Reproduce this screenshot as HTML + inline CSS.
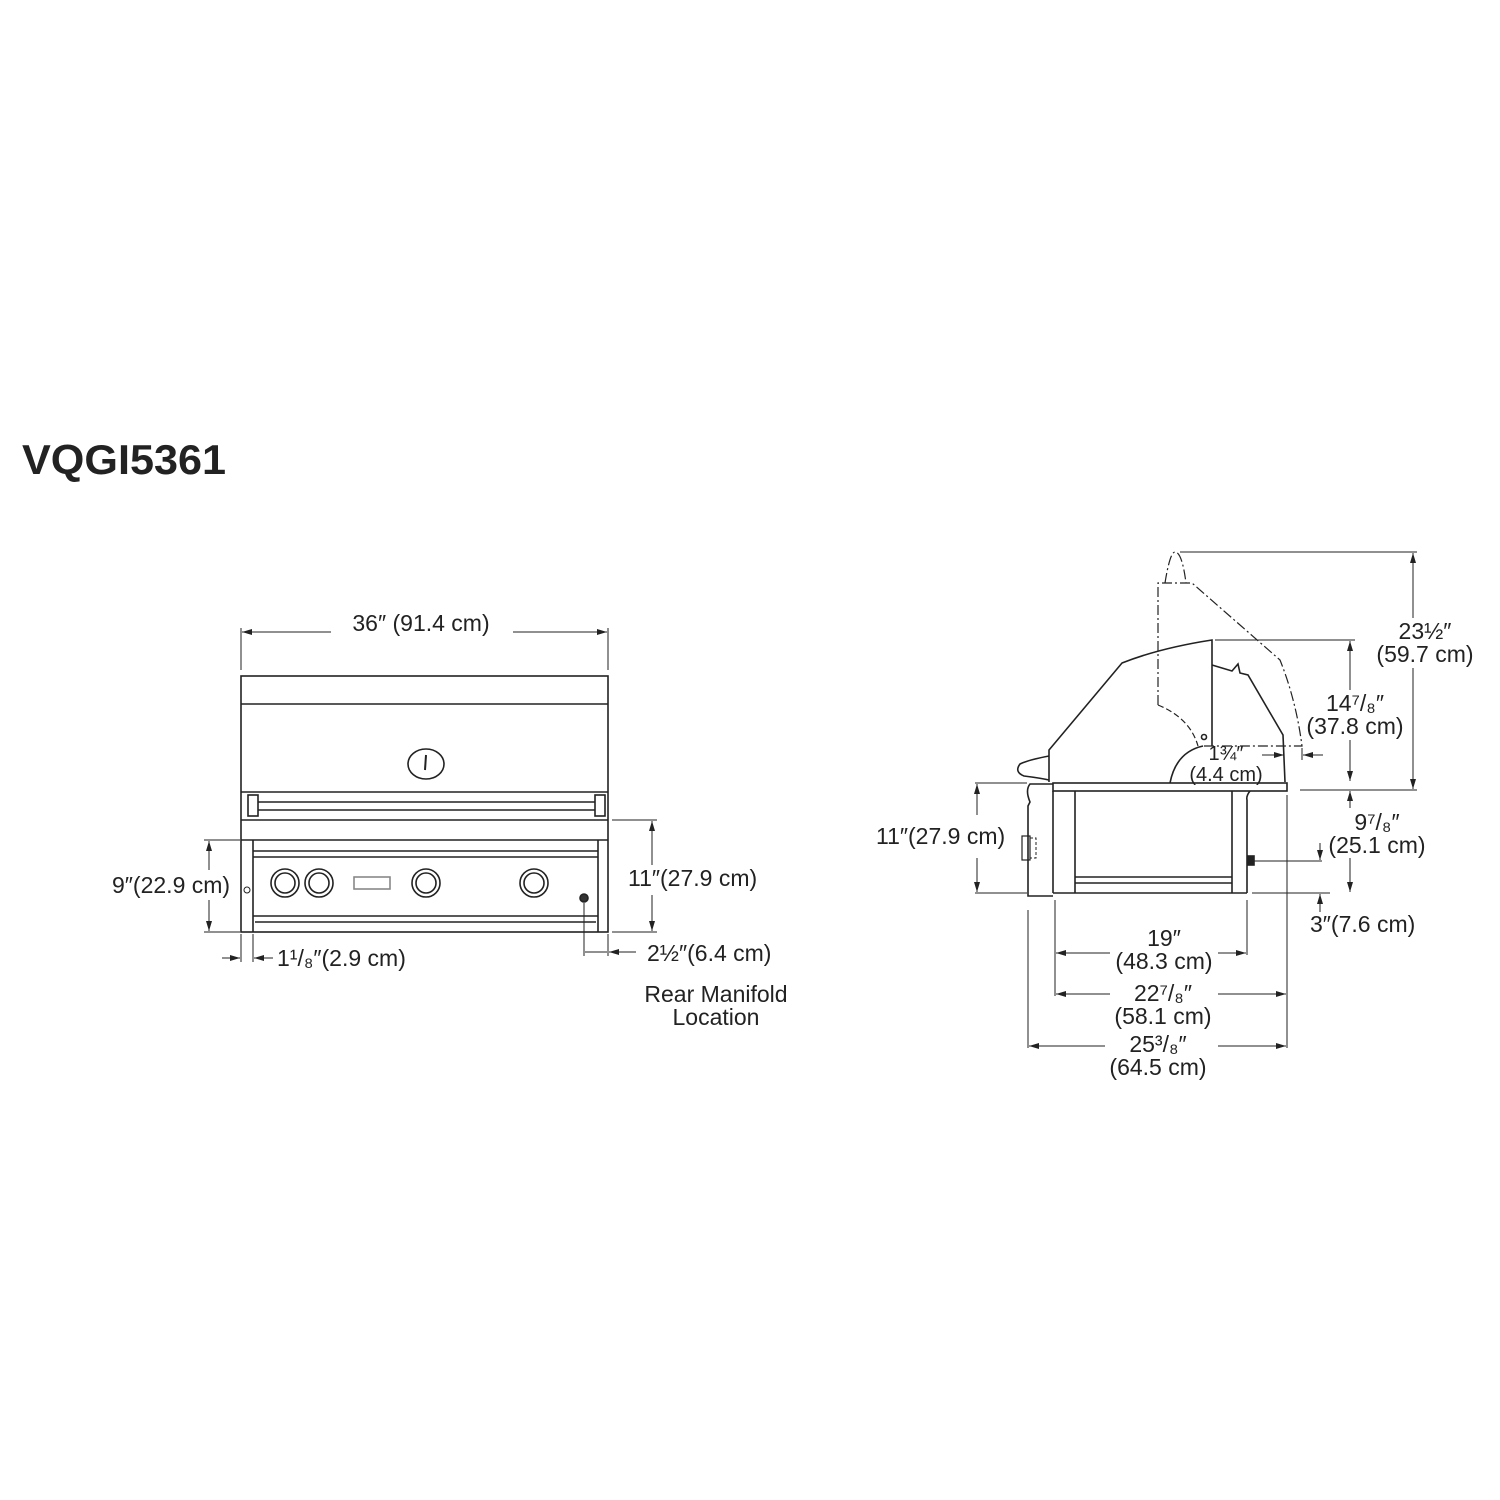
<!DOCTYPE html>
<html><head><meta charset="utf-8"><style>
html,body{margin:0;padding:0;background:#fff}
svg{display:block}
text{font-family:"Liberation Sans",sans-serif;fill:#222}
</style></head><body>
<svg width="1500" height="1500" viewBox="0 0 1500 1500" xmlns="http://www.w3.org/2000/svg">
<defs>
<marker id="a" viewBox="0 0 10 6" refX="10" refY="3" markerWidth="10" markerHeight="6" orient="auto-start-reverse" markerUnits="userSpaceOnUse"><path d="M0,0L10,3L0,6z" fill="#222"/></marker>
</defs>
<text x="22" y="474" font-size="42" font-weight="bold" textLength="204" lengthAdjust="spacingAndGlyphs">VQGI5361</text>

<g stroke="#222" fill="none" stroke-width="1.6">
<!-- FRONT VIEW -->
<rect x="241" y="676" width="367" height="256"/>
<line x1="241" y1="704" x2="608" y2="704"/>
<ellipse cx="426" cy="764" rx="18" ry="15"/>
<line x1="426" y1="755" x2="425" y2="770" stroke-width="2"/>
<line x1="241" y1="792" x2="608" y2="792"/>
<line x1="258" y1="802" x2="595" y2="802"/>
<line x1="258" y1="810" x2="595" y2="810"/>
<rect x="248" y="795" width="10" height="21"/>
<rect x="595" y="795" width="10" height="21"/>
<line x1="241" y1="820" x2="608" y2="820"/>
<line x1="241" y1="840" x2="608" y2="840"/>
<line x1="253" y1="840" x2="253" y2="932"/>
<line x1="598" y1="840" x2="598" y2="932"/>
<line x1="253" y1="851" x2="598" y2="851"/>
<line x1="253" y1="857" x2="598" y2="857"/>
<line x1="253" y1="916" x2="598" y2="916"/>
<line x1="255" y1="922" x2="596" y2="922"/>
<circle cx="285" cy="883" r="14"/><circle cx="285" cy="883" r="10"/>
<circle cx="319" cy="883" r="14"/><circle cx="319" cy="883" r="10"/>
<circle cx="426" cy="883" r="14"/><circle cx="426" cy="883" r="10"/>
<circle cx="534" cy="883" r="14"/><circle cx="534" cy="883" r="10"/>
<rect x="354" y="877" width="36" height="12" stroke="#888"/>
<circle cx="584" cy="898" r="4" fill="#333"/>
<circle cx="247" cy="890" r="3" stroke-width="1"/>

<!-- front dims -->
<g stroke-width="1">
<line x1="241" y1="628" x2="241" y2="670"/><line x1="608" y1="628" x2="608" y2="670"/>
<line x1="331" y1="632" x2="242" y2="632" marker-end="url(#a)"/>
<line x1="513" y1="632" x2="607" y2="632" marker-end="url(#a)"/>
<line x1="612" y1="820" x2="657" y2="820"/><line x1="612" y1="932" x2="657" y2="932"/>
<line x1="652" y1="865" x2="652" y2="821" marker-end="url(#a)"/>
<line x1="652" y1="895" x2="652" y2="931" marker-end="url(#a)"/>
<line x1="204" y1="840" x2="240" y2="840"/><line x1="204" y1="932" x2="240" y2="932"/>
<line x1="209" y1="870" x2="209" y2="841" marker-end="url(#a)"/>
<line x1="209" y1="900" x2="209" y2="931" marker-end="url(#a)"/>
<line x1="241" y1="934" x2="241" y2="962"/><line x1="253" y1="934" x2="253" y2="962"/>
<line x1="222" y1="958" x2="240" y2="958" marker-end="url(#a)"/>
<line x1="273" y1="958" x2="254" y2="958" marker-end="url(#a)"/>
<line x1="584" y1="903" x2="584" y2="956"/><line x1="608" y1="934" x2="608" y2="956"/>
<line x1="585" y1="952" x2="607" y2="952"/>
<line x1="636" y1="952" x2="609" y2="952" marker-end="url(#a)"/>
</g>

<!-- SIDE VIEW -->
<!-- dashed open lid -->
<path d="M1158,705 L1158,583 L1192,583 L1280,660 Q1296,700 1302,746 L1203,746" stroke-dasharray="10,3,2,3" stroke-width="1.2"/>
<path d="M1165,583 Q1170,552 1175,552 Q1182,552 1186,583" stroke-dasharray="10,3,2,3" stroke-width="1.2"/>
<path d="M1158,705 Q1190,718 1198,746" stroke-dasharray="6,3" stroke-width="1.2"/>
<!-- closed lid -->
<path d="M1049,782 L1049,750 L1122,663 Q1160,648 1212,640 L1212,746"/>
<path d="M1212,665 L1232,671 L1238,664 L1240,673 L1248,675 L1283,735 L1285,782"/>
<path d="M1170,783 Q1176,752 1203,746"/>
<circle cx="1204" cy="737" r="2.5"/>
<path d="M1049,756 Q1028,760 1020,764 Q1014,772 1024,776 Q1040,778 1049,780"/>
<!-- base -->
<rect x="1053" y="783" width="234" height="8"/>
<line x1="1053" y1="791" x2="1053" y2="893"/>
<line x1="1075" y1="791" x2="1075" y2="893"/>
<line x1="1232" y1="791" x2="1232" y2="893"/>
<path d="M1250,791 Q1246,796 1247,800 L1247,893"/>
<line x1="1075" y1="877" x2="1232" y2="877"/>
<line x1="1075" y1="883" x2="1232" y2="883"/>
<line x1="1053" y1="893" x2="1247" y2="893"/>
<path d="M1053,784 L1030,784 Q1025,790 1030,802 L1028,806 L1028,896 L1053,896"/>
<rect x="1022" y="836" width="8" height="24" stroke-width="1.2"/>
<rect x="1030" y="838" width="6" height="20" stroke-dasharray="3,2" stroke-width="1"/>
<rect x="1248" y="856" width="6" height="9" fill="#222"/>

<!-- side dims -->
<g stroke-width="1">
<line x1="1180" y1="552" x2="1417" y2="552"/>
<line x1="1413" y1="618" x2="1413" y2="553" marker-end="url(#a)"/>
<line x1="1413" y1="668" x2="1413" y2="789" marker-end="url(#a)"/>
<line x1="1215" y1="640" x2="1355" y2="640"/>
<line x1="1350" y1="690" x2="1350" y2="641" marker-end="url(#a)"/>
<line x1="1350" y1="740" x2="1350" y2="781" marker-end="url(#a)"/>
<line x1="1300" y1="790" x2="1417" y2="790"/>
<line x1="1350" y1="808" x2="1350" y2="791" marker-end="url(#a)"/>
<line x1="1350" y1="858" x2="1350" y2="892" marker-end="url(#a)"/>
<line x1="1262" y1="755" x2="1284" y2="755" marker-end="url(#a)"/>
<line x1="1323" y1="755" x2="1303" y2="755" marker-end="url(#a)"/>
<line x1="1302" y1="748" x2="1302" y2="760"/>
<line x1="1254" y1="861" x2="1322" y2="861"/>
<line x1="1320" y1="843" x2="1320" y2="860" marker-end="url(#a)"/>
<line x1="1252" y1="893" x2="1330" y2="893"/>
<line x1="1320" y1="912" x2="1320" y2="894" marker-end="url(#a)"/>
<line x1="975" y1="783" x2="1027" y2="783"/><line x1="975" y1="893" x2="1027" y2="893"/>
<line x1="977" y1="815" x2="977" y2="784" marker-end="url(#a)"/>
<line x1="977" y1="858" x2="977" y2="892" marker-end="url(#a)"/>
<line x1="1028" y1="910" x2="1028" y2="1048"/>
<line x1="1055" y1="900" x2="1055" y2="996"/>
<line x1="1247" y1="900" x2="1247" y2="955"/>
<line x1="1287" y1="795" x2="1287" y2="1048"/>
<line x1="1110" y1="953" x2="1056" y2="953" marker-end="url(#a)"/>
<line x1="1218" y1="953" x2="1246" y2="953" marker-end="url(#a)"/>
<line x1="1110" y1="994" x2="1056" y2="994" marker-end="url(#a)"/>
<line x1="1218" y1="994" x2="1286" y2="994" marker-end="url(#a)"/>
<line x1="1105" y1="1046" x2="1029" y2="1046" marker-end="url(#a)"/>
<line x1="1218" y1="1046" x2="1286" y2="1046" marker-end="url(#a)"/>
</g>
</g>

<g font-size="23">
<text x="421" y="631" text-anchor="middle">36″ (91.4 cm)</text>
<text x="628" y="886">11″(27.9 cm)</text>
<text x="112" y="893">9″(22.9 cm)</text>
<text x="277" y="966">1¹/₈″(2.9 cm)</text>
<text x="647" y="961">2½″(6.4 cm)</text>
<text x="716" y="1002" text-anchor="middle">Rear Manifold</text>
<text x="716" y="1025" text-anchor="middle">Location</text>
<text x="876" y="844">11″(27.9 cm)</text>
<text x="1425" y="639" text-anchor="middle">23½″</text>
<text x="1425" y="662" text-anchor="middle">(59.7 cm)</text>
<text x="1355" y="711" text-anchor="middle">14⁷/₈″</text>
<text x="1355" y="734" text-anchor="middle">(37.8 cm)</text>
<text x="1226" y="760" text-anchor="middle" font-size="20">1¾″</text>
<text x="1226" y="781" text-anchor="middle" font-size="20">(4.4 cm)</text>
<text x="1377" y="830" text-anchor="middle">9⁷/₈″</text>
<text x="1377" y="853" text-anchor="middle">(25.1 cm)</text>
<text x="1310" y="932">3″(7.6 cm)</text>
<text x="1164" y="946" text-anchor="middle">19″</text>
<text x="1164" y="969" text-anchor="middle">(48.3 cm)</text>
<text x="1163" y="1001" text-anchor="middle">22⁷/₈″</text>
<text x="1163" y="1024" text-anchor="middle">(58.1 cm)</text>
<text x="1158" y="1052" text-anchor="middle">25³/₈″</text>
<text x="1158" y="1075" text-anchor="middle">(64.5 cm)</text>
</g>
</svg>
</body></html>
